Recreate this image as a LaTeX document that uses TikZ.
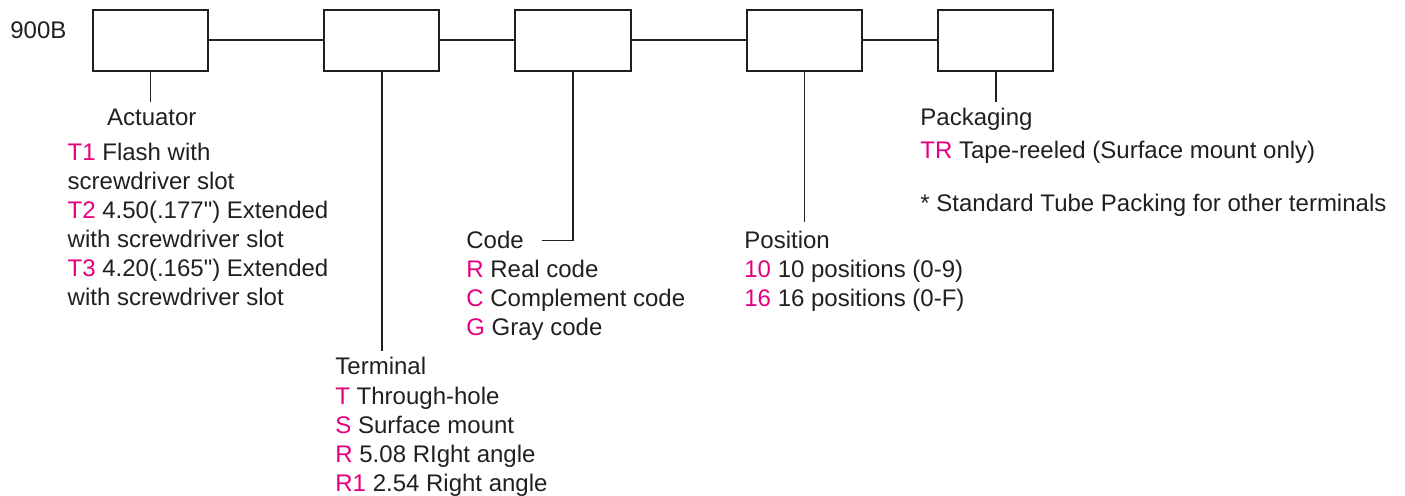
\documentclass[tikz,border=0pt]{standalone}
\usepackage{fontspec}
\setmainfont{Liberation Sans}[Ligatures=TeXOff]
\usepackage{xcolor}
\usepackage{tikz}
\definecolor{mag}{RGB}{230,0,126}
\definecolor{ink}{RGB}{35,31,32}
\tikzstyle{field}=[draw=ink,line width=1pt,minimum width=57.75pt,minimum height=30.5pt,inner sep=0pt]
\tikzstyle{link}=[draw=ink,line width=0.8pt]
\tikzstyle{title}=[inner sep=0pt,anchor=base west,text=ink]
\tikzstyle{items}=[inner sep=0pt,anchor=north west,align=left,text=ink,execute at begin node=\strut]
\newcommand{\cd}[1]{\textcolor{mag}{#1}}

\begin{document}
\begin{tikzpicture}[x=0.5pt,y=-0.5pt,font=\fontsize{12}{14.5}\selectfont]
	\useasboundingbox (0,0) rectangle (1405,496);
	\node[title] (part) at (10,39) {900B};
	% the five fields of the part number
	\foreach \place/\name in {{(150.5,40.3)/act}, {(381.7,40.3)/term},
	{(573,40.3)/code}, {(804.3,40.3)/pos}, {(995.7,40.3)/pack}}
    \node[field] (\name) at \place {};
	\foreach \source/\dest in {act/term, term/code, code/pos, pos/pack}
	\draw[link] (\source) -- (\dest);

	\coordinate (actend) at (150.5,101.7);
	\coordinate (termend) at (381.7,350.7);
	\coordinate (codeend) at (541.7,240.7);
	\coordinate (posend) at (804.3,221.7);
	\coordinate (packend) at (995.7,101.7);
	\foreach \name in {act, term, pos, pack}
	\draw[link] (\name.south) -- (\name end);
	\draw[link] (code.south) |- (codeend);

	\node[title] (acttitle) at (106.7,126) {Actuator};
	\node[title] (termtitle) at (335,375) {Terminal};
	\node[title] (codetitle) at (466,248.3) {Code};
	\node[title] (postitle) at (744,248.3) {Position};
	\node[title] (packtitle) at (920,126) {Packaging};

	% lists: top of the strut of the first line
	\node[items] (actlist) at (67.3,143) {\cd{T1} Flash with\\screwdriver slot\\%
	\cd{T2} 4.50(.177") Extended\\with screwdriver slot\\%
	\cd{T3} 4.20(.165") Extended\\with screwdriver slot};
	\node[items] (termlist) at (335,387) {\cd{T} Through-hole\\\cd{S} Surface mount\\%
	\cd{R} 5.08 RIght angle\\\cd{R1} 2.54 Right angle};
	\node[items] (codelist) at (466,259.8) {\cd{R} Real code\\\cd{C} Complement code\\\cd{G} Gray code};
	\node[items] (poslist) at (744,259.8) {\cd{10} 10 positions (0-9)\\\cd{16} 16 positions (0-F)};
	\node[items] (packlist) at (920,137.5) {\cd{TR} Tape-reeled (Surface mount only)};
	\node[title] (note) at (920,211.7) {* Standard Tube Packing for other terminals};
\end{tikzpicture}
\end{document}
